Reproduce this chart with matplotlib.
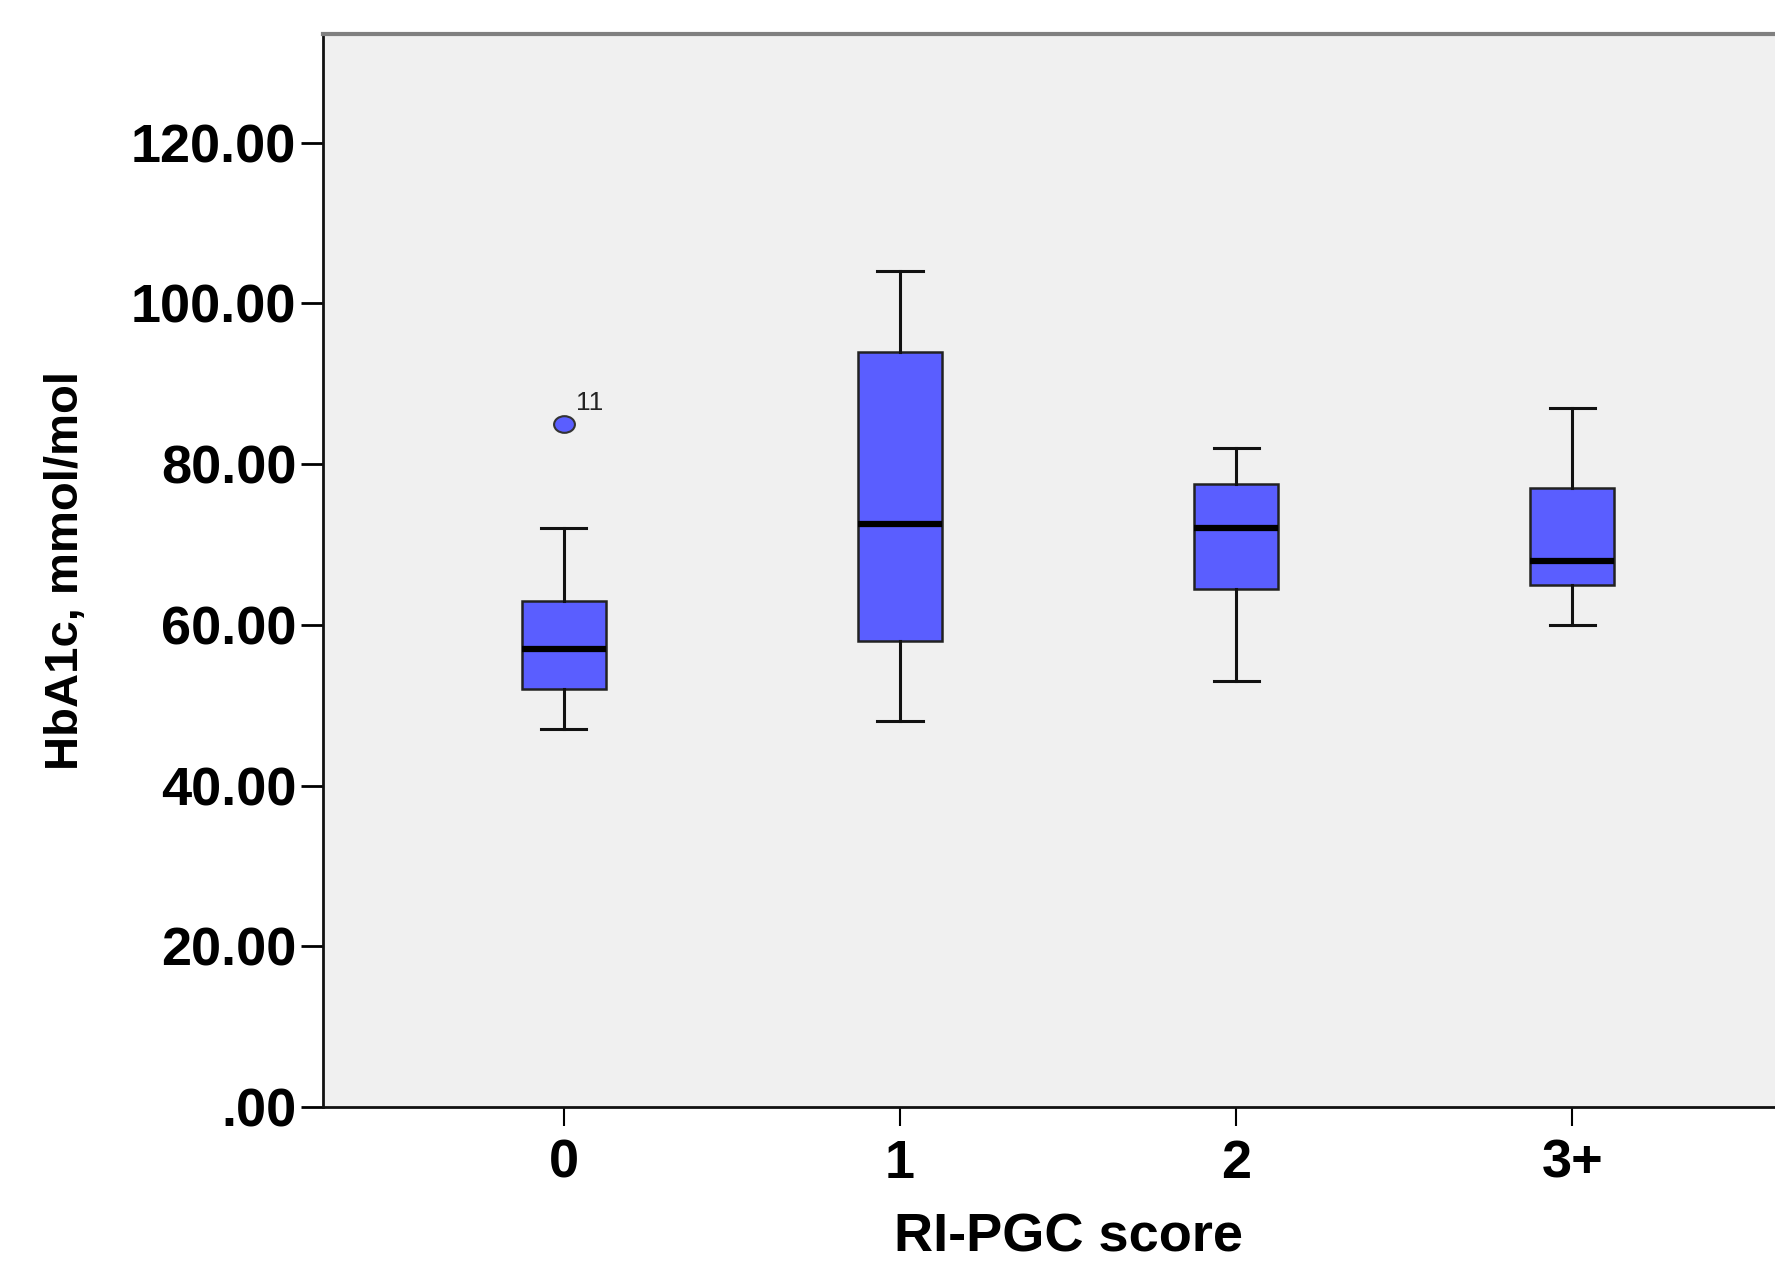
import matplotlib.pyplot as plt
import matplotlib.path as mpath

# data
groups = ['0', '1', '2', '3+']
whisker_low = [47.0, 48.0, 53.0, 60.0]
q1 = [52.0, 58.0, 64.5, 65.0]
medians = [57.0, 72.5, 72.0, 68.0]
q3 = [63.0, 94.0, 77.5, 77.0]
whisker_high = [72.0, 104.0, 82.0, 87.0]
outliers = [[85.0], [], [], []]
outlier_ids = [['11'], [], [], []]

y_ticks = [0, 20, 40, 60, 80, 100, 120]
y_labels = ['.00', '20.00', '40.00', '60.00', '80.00', '100.00', '120.00']

plt.rcParams['font.family'] = ['Liberation Sans', 'DejaVu Sans']

fig = plt.figure(figsize=(17.75, 12.67), dpi=100)
ax = fig.add_axes([0.1818, 0.1263, 0.8399, 0.8467])
ax.set_facecolor('#f0f0f0')

stats = []
for i in range(len(groups)):
    stats.append({'label': groups[i], 'whislo': whisker_low[i], 'q1': q1[i],
                  'med': medians[i], 'q3': q3[i], 'whishi': whisker_high[i],
                  'fliers': outliers[i]})

# slightly oval outlier marker, like the SPSS one
circ = mpath.Path.unit_circle()
oval = mpath.Path(circ.vertices * [1.25, 1.0], circ.codes)

pos = list(range(len(groups)))
ax.bxp(stats, positions=pos, widths=0.25, patch_artist=True,
       boxprops=dict(facecolor='#5a5eff', edgecolor='#222222', linewidth=1.8),
       medianprops=dict(color='black', linewidth=4.5, solid_capstyle='butt'),
       whiskerprops=dict(color='#111111', linewidth=2.2),
       capprops=dict(color='#111111', linewidth=2.2), capwidths=0.135,
       flierprops=dict(marker=oval, markersize=15, markerfacecolor='#5a5eff',
                       markeredgecolor='#333333', markeredgewidth=1.5))

# case labels next to outliers
for i in range(len(groups)):
    for v, lab in zip(outliers[i], outlier_ids[i]):
        ax.annotate(lab, (pos[i], v), xytext=(9, 15), textcoords='offset points',
                    fontsize=19, color='#222222', va='center', ha='left')

ax.set_xlim(-0.717, 3.717)
ax.set_ylim(0, 133.5)
ax.set_yticks(y_ticks)
ax.set_yticklabels(y_labels)
ax.set_xticks(pos)
ax.set_xticklabels(groups)

ax.tick_params(axis='y', length=16, width=2, labelsize=39, pad=3)
ax.tick_params(axis='x', length=14, width=1.5, labelsize=39, pad=9)
for t in ax.get_xticklabels() + ax.get_yticklabels():
    t.set_fontweight('bold')

for s in ['left', 'bottom']:
    ax.spines[s].set_linewidth(2)
    ax.spines[s].set_color('#111111')
ax.spines['top'].set_linewidth(3)
ax.spines['top'].set_color('#808080')
ax.spines['right'].set_visible(False)

ax.set_xlabel('RI-PGC score', fontsize=39, fontweight='bold', labelpad=17)
ax.set_ylabel('HbA1c, mmol/mol', fontsize=34, fontweight='bold', labelpad=31)

fig.savefig('out.png', dpi=100)
